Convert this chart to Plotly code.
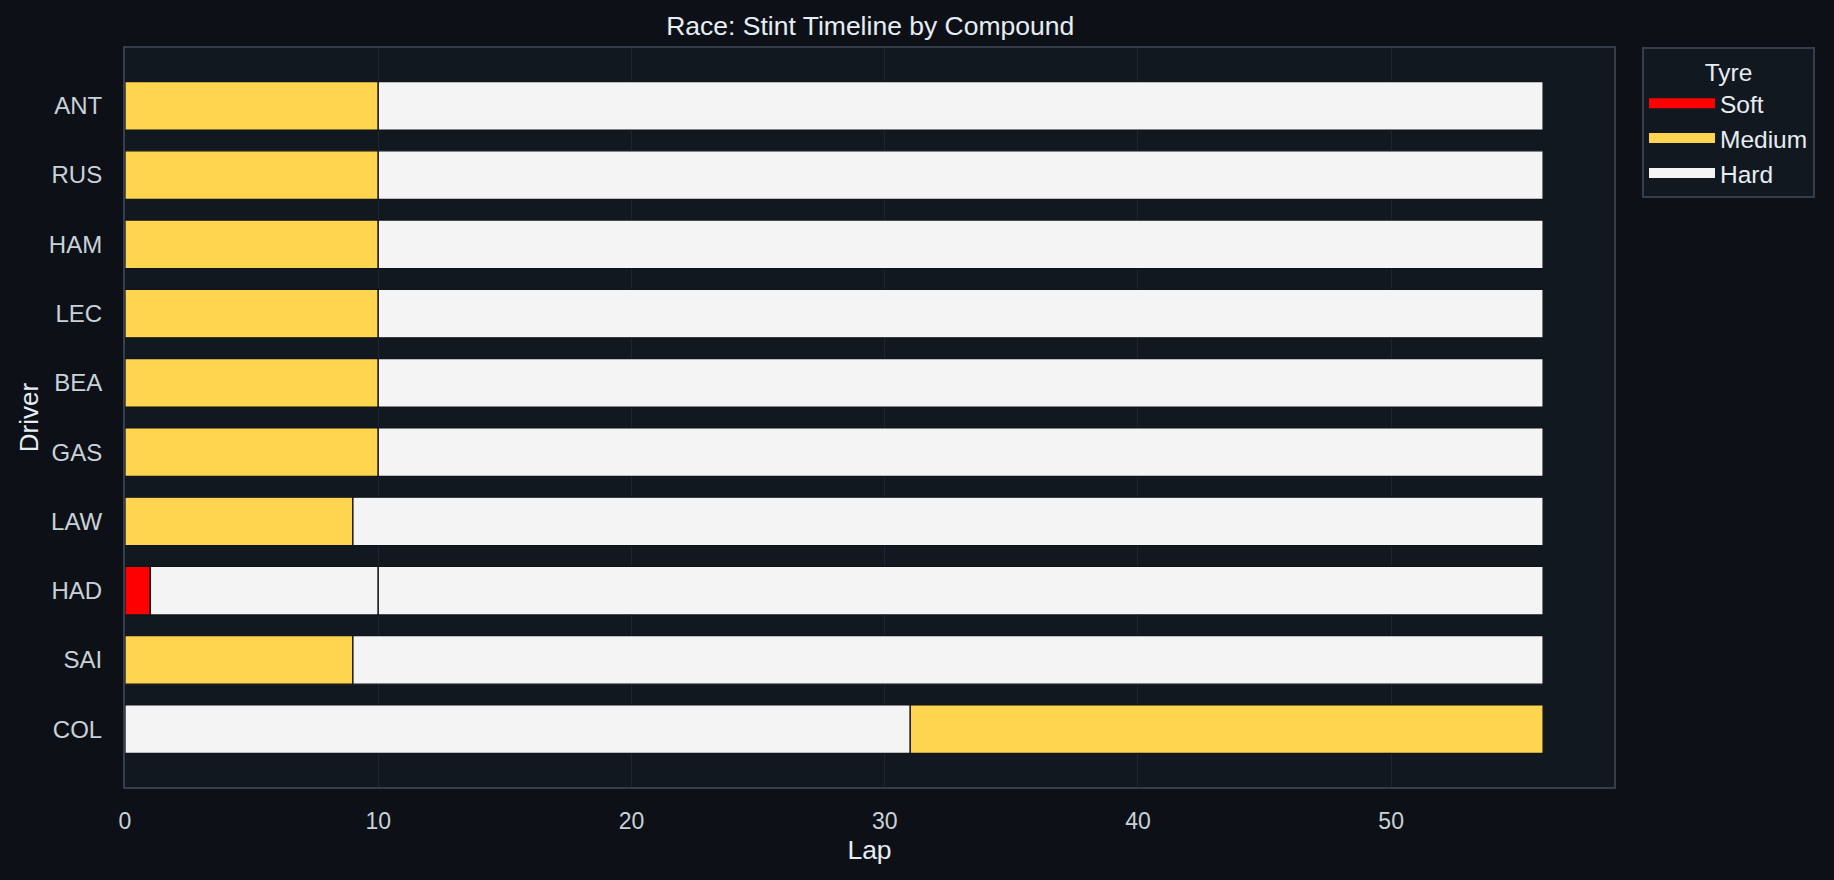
import plotly.graph_objects as go

# drivers from bottom to top of the chart
drivers = ["COL", "SAI", "HAD", "LAW", "GAS", "BEA", "LEC", "HAM", "RUS", "ANT"]

# one entry per stint
stintDriver = ["ANT", "ANT", "RUS", "RUS", "HAM", "HAM", "LEC", "LEC", "BEA", "BEA",
               "GAS", "GAS", "LAW", "LAW", "HAD", "HAD", "HAD", "SAI", "SAI", "COL", "COL"]
stintCompound = ["MEDIUM", "HARD", "MEDIUM", "HARD", "MEDIUM", "HARD", "MEDIUM", "HARD", "MEDIUM", "HARD",
                 "MEDIUM", "HARD", "MEDIUM", "HARD", "SOFT", "HARD", "HARD", "MEDIUM", "HARD", "HARD", "MEDIUM"]
stintStart = [0, 10, 0, 10, 0, 10, 0, 10, 0, 10,
              0, 10, 0, 9, 0, 1, 10, 0, 9, 0, 31]
stintEnd = [10, 56, 10, 56, 10, 56, 10, 56, 10, 56,
            10, 56, 9, 56, 1, 10, 56, 9, 56, 31, 56]

compounds = ["SOFT", "MEDIUM", "HARD"]
compoundNames = ["Soft", "Medium", "Hard"]
compoundColors = {"SOFT": "#ff0000", "MEDIUM": "#ffd54f", "HARD": "#f4f4f4"}

paperBg = "#0d1117"
plotBg = "#121820"
frameCol = "#363e4c"
gridCol = "#1f2631"
textCol = "#e6edf3"
tickCol = "#c9d1d9"
fontFam = "Arial, Liberation Sans, sans-serif"

fig = go.Figure()

# stint bars, one trace per compound
for comp in compounds:
    idx = [i for i, c in enumerate(stintCompound) if c == comp]
    fig.add_trace(go.Bar(
        y=[stintDriver[i] for i in idx],
        x=[stintEnd[i] - stintStart[i] for i in idx],
        base=[stintStart[i] for i in idx],
        orientation="h",
        width=0.7,
        marker=dict(color=compoundColors[comp], line=dict(color="#11151b", width=1.3)),
        showlegend=False,
        hovertemplate="%{y}: lap %{base} - %{x}<extra></extra>",
    ))

# legend entries drawn as thick lines
for comp, name in zip(compounds, compoundNames):
    fig.add_trace(go.Scatter(
        x=[None], y=[None], mode="lines", name=name,
        line=dict(color=compoundColors[comp], width=10),
    ))

fig.update_layout(
    width=1834, height=880,
    paper_bgcolor=paperBg, plot_bgcolor=plotBg,
    barmode="overlay",
    font=dict(family=fontFam, color=textCol, size=24),
    margin=dict(l=125, r=220, t=48, b=93),
    title=dict(text="Race: Stint Timeline by Compound", x=0.4745, xanchor="center",
               y=1 - 26 / 880, yanchor="middle", font=dict(size=26.5, color=textCol)),
    legend=dict(
        title=dict(text="Tyre", side="top center", font=dict(size=24.5, color=textCol)),
        x=1.0188, xanchor="left", y=1.0014, yanchor="top",
        bgcolor=plotBg, bordercolor=frameCol, borderwidth=2,
        font=dict(size=24.5, color=textCol), itemwidth=66, tracegroupgap=2,
    ),
)

fig.update_xaxes(
    range=[0, 58.8], tickvals=[0, 10, 20, 30, 40, 50],
    showgrid=True, gridcolor=gridCol, gridwidth=1, zeroline=False,
    showline=True, linecolor=frameCol, linewidth=2, mirror=True,
    ticks="", ticklabelstandoff=12, tickfont=dict(size=23, color=tickCol),
    title=dict(text="Lap", standoff=8, font=dict(size=26.5, color=textCol)),
)
fig.update_yaxes(
    type="category", categoryorder="array", categoryarray=drivers,
    range=[-0.835, 9.835], showgrid=False, zeroline=False,
    showline=True, linecolor=frameCol, linewidth=2, mirror=True,
    ticks="", ticklabelstandoff=16, tickfont=dict(size=24, color=tickCol),
    title=dict(text="Driver", standoff=3, font=dict(size=26, color=textCol)),
)

# drop the page margin so the figure fills the window
fig.write_html("out.html", config={"displayModeBar": False},
               post_script="document.body.style.margin='0';document.body.style.background='#0d1117';")
